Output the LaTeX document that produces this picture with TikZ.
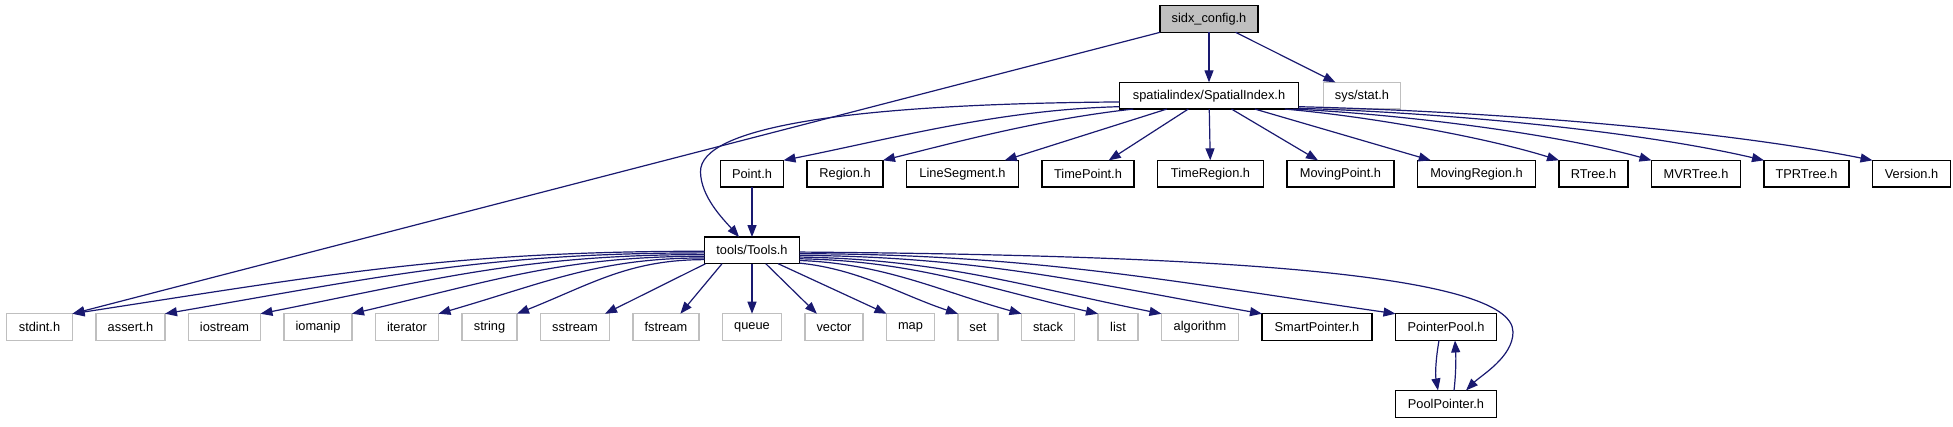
\documentclass[tikz,border=0pt]{standalone}
\usepackage{fontspec}
\setmainfont{Liberation Sans}
\usetikzlibrary{arrows.meta, positioning}
\definecolor{dxEdge}{HTML}{191970}
\definecolor{dxGray}{HTML}{BFBFBF}

\begin{document}
\begin{tikzpicture}[
        x=1pt, y=-1pt,
        node distance=50pt and 23.5pt,
        hdr/.style={rectangle, draw=black, line width=1.1pt, outer sep=0pt, minimum height=26.7pt, inner xsep=3pt, inner ysep=0pt, font=\fontsize{12.8}{14}\selectfont},
        syshdr/.style={hdr, draw=dxGray},
        roothdr/.style={hdr, fill=dxGray},
        arr/.style={-{Triangle[length=12pt, width=9pt]}, line width=1.2pt, dxEdge},
    ]
        \useasboundingbox (0,0) rectangle (1953,427);

        % Root
        \node[roothdr, minimum width=98pt] (cfg) at (1209,19) {sidx\_config.h};
        \node[hdr, minimum width=179pt, below=50pt of cfg] (spidx) {spatialindex/SpatialIndex.h};
        \node[syshdr, minimum width=77pt, right=25pt of spidx] (stat) {sys/stat.h};

        % Spatial index headers
        \node[hdr, minimum width=63pt] (point) at (752,173.7) {Point.h};
        \node[hdr, minimum width=76pt, right=of point]     (region)  {Region.h};
        \node[hdr, minimum width=112pt, right=of region]   (lineseg) {LineSegment.h};
        \node[hdr, minimum width=92pt, right=of lineseg]   (tpoint)  {TimePoint.h};
        \node[hdr, minimum width=106pt, right=of tpoint]   (tregion) {TimeRegion.h};
        \node[hdr, minimum width=107pt, right=of tregion]  (mpoint)  {MovingPoint.h};
        \node[hdr, minimum width=118pt, right=of mpoint]   (mregion) {MovingRegion.h};
        \node[hdr, minimum width=69pt, right=of mregion]   (rtree)   {RTree.h};
        \node[hdr, minimum width=89pt, right=of rtree]     (mvrtree) {MVRTree.h};
        \node[hdr, minimum width=85pt, right=of mvrtree]   (tprtree) {TPRTree.h};
        \node[hdr, minimum width=78pt, right=of tprtree]   (version) {Version.h};

        % Tools
        \node[hdr, minimum width=95pt, below=of point] (tools) {tools/Tools.h};

        % Tools includes
        \node[syshdr, minimum width=59pt, below=of tools]   (queue)    {queue};
        \node[syshdr, minimum width=66pt, left=of queue]    (fstream)  {fstream};
        \node[syshdr, minimum width=69pt, left=of fstream]  (sstream)  {sstream};
        \node[syshdr, minimum width=55pt, left=of sstream]  (string)   {string};
        \node[syshdr, minimum width=63pt, left=of string]   (iterator) {iterator};
        \node[syshdr, minimum width=68pt, left=of iterator] (iomanip)  {iomanip};
        \node[syshdr, minimum width=72pt, left=of iomanip]  (iostream) {iostream};
        \node[syshdr, minimum width=69pt, left=of iostream] (assert)   {assert.h};
        \node[syshdr, minimum width=66pt, left=of assert]   (stdint)   {stdint.h};
        \node[syshdr, minimum width=58pt, right=of queue]   (vector)   {vector};
        \node[syshdr, minimum width=48pt, right=of vector]  (map)      {map};
        \node[syshdr, minimum width=40pt, right=of map]     (set)      {set};
        \node[syshdr, minimum width=53pt, right=of set]     (stack)    {stack};
        \node[syshdr, minimum width=40pt, right=of stack]   (list)     {list};
        \node[syshdr, minimum width=77pt, right=of list]    (algorithm) {algorithm};
        \node[hdr, minimum width=110pt, right=of algorithm] (smartptr) {SmartPointer.h};
        \node[hdr, minimum width=101pt, right=of smartptr]  (ptrpool)  {PointerPool.h};
        \node[hdr, minimum width=101pt, below=of ptrpool]   (poolptr)  {PoolPointer.h};

        % Bends of the two long curves
        \coordinate (lbend) at (700.5,172);
        \coordinate (rbend) at (1513,332);

        % Arrows: sidx_config.h
        \draw[arr] (cfg) -- (spidx);
        \draw[arr] (cfg) -- (stat);
        \draw[arr] (cfg.south west) -- (stdint.north east);

        % Arrows: SpatialIndex.h -> headers
        \draw[arr] (spidx.184) .. controls +(-270,2) and +(-1,-45) .. (lbend) .. controls +(0.5,25) and +(-16,-18) .. (tools.134);
        \draw[arr] (spidx.187) .. controls +(-120,3) and +(110,-22) .. (point.north east);
        \draw[arr] (spidx.190) .. controls +(-90,10) and +(80,-20) .. (region.north east);
        \draw[arr] (spidx) -- (lineseg);
        \draw[arr] (spidx) -- (tpoint);
        \draw[arr] (spidx) -- (tregion);
        \draw[arr] (spidx) -- (mpoint);
        \draw[arr] (spidx) -- (mregion);
        \draw[arr] (spidx.-10) .. controls +(90,8) and +(-70,-22) .. (rtree.north west);
        \draw[arr] (spidx.-9) .. controls +(120,6) and +(-90,-25) .. (mvrtree.north west);
        \draw[arr] (spidx.-8) .. controls +(160,5) and +(-120,-28) .. (tprtree.north west);
        \draw[arr] (spidx.-7) .. controls +(200,5) and +(-150,-30) .. (version.north west);

        % Arrows: Point.h -> Tools.h
        \draw[arr] (point) -- (tools);

        % Arrows: Tools.h -> left
        \draw[arr] (tools.181) .. controls +(-250,0) and +(260,-40) .. (stdint.north east);
        \draw[arr] (tools.183) .. controls +(-215,0) and +(220,-38) .. (assert.north east);
        \draw[arr] (tools.185) .. controls +(-175,0) and +(180,-36) .. (iostream.north east);
        \draw[arr] (tools.187) .. controls +(-140,0) and +(145,-34) .. (iomanip.north east);
        \draw[arr] (tools.189) .. controls +(-105,0) and +(110,-32) .. (iterator.north east);
        \draw[arr] (tools.191) .. controls +(-75,0) and +(75,-30) .. (string.north east);
        \draw[arr] (tools.196) -- (sstream.24);
        \draw[arr] (tools.204) -- (fstream.43);

        % Arrows: Tools.h -> right
        \draw[arr] (tools) -- (queue);
        \draw[arr] (tools.-44) -- (vector.142);
        \draw[arr] (tools.-27) -- (map.north west);
        \draw[arr] (tools.-15) .. controls +(60,6) and +(-55,-18) .. (set.north west);
        \draw[arr] (tools.-12) .. controls +(85,3) and +(-80,-22) .. (stack.north west);
        \draw[arr] (tools.-10) .. controls +(115,2) and +(-110,-25) .. (list.north west);
        \draw[arr] (tools.-8) .. controls +(140,2) and +(-135,-27) .. (algorithm.north west);
        \draw[arr] (tools.-6) .. controls +(180,1) and +(-170,-30) .. (smartptr.north west);
        \draw[arr] (tools.-4) .. controls +(230,0) and +(-220,-32) .. (ptrpool.north west);
        \draw[arr] (tools.-2) .. controls +(400,3) and +(0,-60) .. (rbend) .. controls +(0,25) and +(15,-15) .. ([xshift=20pt]poolptr.north);

        % Arrows: PointerPool.h <-> PoolPointer.h
        \draw[arr] ([xshift=-7pt]ptrpool.south) .. controls +(-3,17) and +(-3,-17) .. ([xshift=-8pt]poolptr.north);
        \draw[arr] ([xshift=8pt]poolptr.north) .. controls +(2,-17) and +(1,17) .. ([xshift=9pt]ptrpool.south);

    \end{tikzpicture}
\end{document}
